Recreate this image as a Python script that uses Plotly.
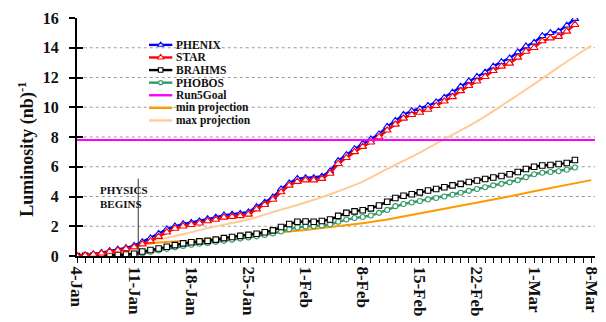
import pandas as pd
import plotly.graph_objects as go

# ---- data -----------------------------------------------------------------
start_date = "2005-01-04"

phenix = [0.00, 0.05, 0.12, 0.22, 0.35, 0.45, 0.55, 0.70, 0.95, 1.20,
          1.50, 1.80, 2.00, 2.15, 2.25, 2.35, 2.50, 2.60, 2.75, 2.80,
          2.85, 2.95, 3.30, 3.60, 3.95, 4.50, 4.90, 5.20, 5.25, 5.25,
          5.35, 5.70, 6.40, 6.80, 7.20, 7.55, 7.85, 8.20, 8.70, 9.10,
          9.50, 9.75, 9.90, 10.10, 10.35, 10.65, 11.00, 11.40, 11.75, 12.05,
          12.35, 12.75, 13.05, 13.30, 13.70, 14.10, 14.35, 14.80, 15.00, 15.10,
          15.50, 15.95]

star = [0.00, 0.04, 0.10, 0.18, 0.30, 0.38, 0.48, 0.60, 0.80, 1.00,
        1.30, 1.60, 1.85, 2.00, 2.10, 2.20, 2.35, 2.45, 2.60, 2.65,
        2.70, 2.80, 3.15, 3.45, 3.80, 4.30, 4.75, 5.00, 5.10, 5.10,
        5.20, 5.55, 6.20, 6.60, 7.00, 7.35, 7.65, 8.00, 8.45, 8.85,
        9.25, 9.50, 9.65, 9.85, 10.10, 10.40, 10.70, 11.10, 11.45, 11.75,
        12.05, 12.45, 12.75, 12.95, 13.35, 13.75, 14.00, 14.45, 14.65, 14.75,
        15.10, 15.55]

brahms = [0.00, 0.01, 0.02, 0.03, 0.05, 0.07, 0.10, 0.15, 0.30, 0.40,
          0.50, 0.62, 0.73, 0.85, 0.92, 0.98, 1.02, 1.10, 1.20, 1.28,
          1.35, 1.42, 1.50, 1.60, 1.72, 1.95, 2.15, 2.30, 2.32, 2.30,
          2.35, 2.45, 2.70, 2.90, 3.00, 3.08, 3.20, 3.40, 3.65, 3.90,
          4.05, 4.15, 4.28, 4.40, 4.50, 4.62, 4.75, 4.85, 4.97, 5.08,
          5.18, 5.28, 5.38, 5.50, 5.65, 5.85, 6.00, 6.08, 6.12, 6.18,
          6.25, 6.45]

phobos = [0.00, 0.01, 0.02, 0.03, 0.04, 0.05, 0.07, 0.10, 0.18, 0.28,
          0.38, 0.48, 0.58, 0.68, 0.76, 0.82, 0.88, 0.95, 1.02, 1.10,
          1.17, 1.25, 1.32, 1.42, 1.52, 1.65, 1.80, 1.92, 1.98, 2.00,
          2.05, 2.12, 2.30, 2.45, 2.55, 2.62, 2.72, 2.90, 3.10, 3.35,
          3.50, 3.60, 3.70, 3.80, 3.90, 4.00, 4.12, 4.25, 4.38, 4.50,
          4.62, 4.75, 4.85, 4.95, 5.10, 5.30, 5.50, 5.60, 5.65, 5.70,
          5.80, 5.95]

proj_dates = ["2005-01-11", "2005-01-14", "2005-01-18", "2005-01-21", "2005-01-25",
              "2005-01-28", "2005-02-01", "2005-02-04", "2005-02-08", "2005-02-11",
              "2005-02-15", "2005-02-18", "2005-02-22", "2005-02-25", "2005-03-01",
              "2005-03-04", "2005-03-08"]
min_projection = [0.72, 0.90, 1.05, 1.20, 1.40, 1.55, 1.75, 1.95, 2.20, 2.45,
                  2.85, 3.15, 3.60, 3.90, 4.35, 4.65, 5.10]
max_projection = [0.72, 1.10, 1.60, 2.00, 2.45, 2.95, 3.60, 4.15, 5.00, 5.85,
                  6.95, 7.85, 9.05, 10.10, 11.55, 12.70, 14.15]

run5_goal = 7.8
physics_start = "2005-01-11 12:00"

tick_dates = ["2005-01-04", "2005-01-11", "2005-01-18", "2005-01-25", "2005-02-01",
              "2005-02-08", "2005-02-15", "2005-02-22", "2005-03-01", "2005-03-08"]
tick_labels = ["4-Jan", "11-Jan", "18-Jan", "25-Jan", "1-Feb",
               "8-Feb", "15-Feb", "22-Feb", "1-Mar", "8-Mar"]
y_ticks = [0, 2, 4, 6, 8, 10, 12, 14, 16]
grid_levels = [2, 4, 6, 8, 10, 12, 14]

# ---- styling --------------------------------------------------------------
SERIF = "Liberation Serif, Times New Roman, serif"
INK = "#111111"
x_range = ["2005-01-04", "2005-03-08 11:00"]

days = pd.date_range(start_date, periods=len(phenix), freq="D")

styles = {
    "PHENIX": dict(color="#0000ff", symbol="triangle-up", size=6.5),
    "STAR": dict(color="#ff0000", symbol="triangle-up", size=7),
    "BRAHMS": dict(color="#000000", symbol="square", size=5.5),
    "PHOBOS": dict(color="#339966", symbol="circle", size=5),
    "Run5Goal": dict(color="#ff00ff"),
    "min projection": dict(color="#ff9900"),
    "max projection": dict(color="#ffcc99"),
}

fig = go.Figure()

# projections
fig.add_trace(go.Scatter(x=proj_dates, y=max_projection, mode="lines",
                         line=dict(color=styles["max projection"]["color"], width=2,
                                   shape="spline", smoothing=0.6),
                         hoverinfo="skip"))
fig.add_trace(go.Scatter(x=proj_dates, y=min_projection, mode="lines",
                         line=dict(color=styles["min projection"]["color"], width=2),
                         hoverinfo="skip"))

# goal line (on the overlay axis that carries the inner half of the y ticks)
fig.add_trace(go.Scatter(x=x_range, y=[run5_goal, run5_goal], mode="lines",
                         line=dict(color=styles["Run5Goal"]["color"], width=2),
                         yaxis="y2", hoverinfo="skip"))


def marker_trace(x, y, name):
    st = styles[name]
    return go.Scatter(
        x=x, y=y, mode="lines+markers",
        line=dict(color=st["color"], width=2.4),
        marker=dict(symbol=st["symbol"], size=st["size"], color="white",
                    line=dict(color=st["color"], width=1.1)),
        hoverinfo="skip")


fig.add_trace(marker_trace(days, phobos, "PHOBOS"))
fig.add_trace(marker_trace(days, brahms, "BRAHMS"))
fig.add_trace(marker_trace(days, phenix, "PHENIX"))
fig.add_trace(marker_trace(days, star, "STAR"))

# ---- hand-placed legend on an overlay axis with a 0..1 frame --------------
legend_names = ["PHENIX", "STAR", "BRAHMS", "PHOBOS", "Run5Goal",
                "min projection", "max projection"]
leg_x0, leg_x1, leg_text_x = 0.139, 0.184, 0.188
leg_top, leg_step = 0.887, 0.0529

for i, name in enumerate(legend_names):
    yy = leg_top - i * leg_step
    st = styles[name]
    fig.add_trace(go.Scatter(x=[leg_x0, leg_x1], y=[yy, yy], mode="lines",
                             line=dict(color=st["color"], width=2.4),
                             xaxis="x2", yaxis="y3", hoverinfo="skip",
                             cliponaxis=False))
    if "symbol" in st:
        fig.add_trace(go.Scatter(
            x=[(leg_x0 + leg_x1) / 2], y=[yy], mode="markers",
            marker=dict(symbol=st["symbol"], size=st["size"] - 1, color="white",
                        line=dict(color=st["color"], width=1.1)),
            xaxis="x2", yaxis="y3", hoverinfo="skip", cliponaxis=False))
    fig.add_annotation(x=leg_text_x, y=yy, xref="x2", yref="y3", text=f"<b>{name}</b>",
                       showarrow=False, xanchor="left", yanchor="middle",
                       font=dict(family=SERIF, size=11.5, color=INK))

# dotted grid
for g in grid_levels:
    fig.add_shape(type="line", xref="paper", yref="y", x0=0.013, x1=1.0,
                  y0=g, y1=g, line=dict(color="#9a9a9a", width=1, dash="dot"),
                  layer="below")

# start-of-physics marker
fig.add_shape(type="line", xref="x", yref="y", x0=physics_start, x1=physics_start,
              y0=-0.2, y1=5.2, line=dict(color="#333333", width=1))
fig.add_annotation(x="2005-01-06 15:00", y=4.0, xref="x", yref="y",
                   text="<b>PHYSICS</b><br><b>BEGINS</b>", showarrow=False,
                   align="left", xanchor="left", yanchor="middle",
                   font=dict(family=SERIF, size=11, color=INK))

# y-axis title
fig.add_annotation(x=-0.097, y=0.45, xref="paper", yref="paper",
                   text="<b>Luminosity (nb)<sup>-1</sup></b>", textangle=-90,
                   showarrow=False, xanchor="center", yanchor="middle",
                   font=dict(family=SERIF, size=18, color=INK))

fig.update_layout(
    width=606, height=322,
    margin=dict(l=77, r=5, t=18, b=66),
    paper_bgcolor="white", plot_bgcolor="white",
    showlegend=False,
    xaxis=dict(
        type="date", range=x_range,
        tickvals=tick_dates, ticktext=[f"<b>{t}</b>" for t in tick_labels],
        tickangle=90, ticks="outside", ticklen=5, tickwidth=1.3, tickcolor="black",
        ticklabeloverflow="allow",
        minor=dict(dtick=86400000, tick0=start_date, ticks="outside", ticklen=5,
                   tickwidth=1.3, tickcolor="black", showgrid=False),
        tickfont=dict(family=SERIF, size=17, color=INK),
        showline=True, linecolor="black", linewidth=2, showgrid=False,
        zeroline=False,
    ),
    yaxis=dict(
        range=[0, 16], tickvals=y_ticks,
        ticktext=[f"<b>{v}</b>" for v in y_ticks],
        ticks="outside", ticklen=6, tickwidth=1.5, tickcolor="black",
        tickfont=dict(family=SERIF, size=16, color=INK),
        ticklabelstandoff=7,
        showline=True, linecolor="black", linewidth=2, showgrid=False,
        zeroline=False,
    ),
    yaxis2=dict(
        overlaying="y", side="left", anchor="x", matches="y", range=[0, 16],
        tickvals=y_ticks, ticks="inside", ticklen=6, tickwidth=1.5,
        tickcolor="black", showticklabels=False, showline=False,
        showgrid=False, zeroline=False,
    ),
    xaxis2=dict(overlaying="x", range=[0, 1], visible=False),
    yaxis3=dict(overlaying="y", range=[0, 1], visible=False),
)

fig.write_html("out.html")
